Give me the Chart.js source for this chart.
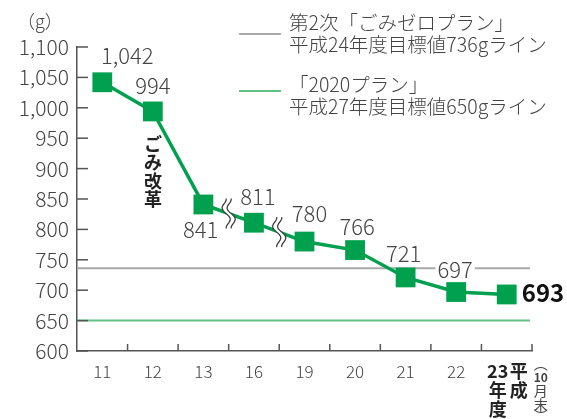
<!DOCTYPE html>
<html>
<head>
<meta charset="utf-8">
<script src="https://cdn.jsdelivr.net/npm/chart.js@4"></script>
<style>
  html, body { margin: 0; padding: 0; background: #fff; }
  #wrap { width: 567px; height: 419px; }
</style>
</head>
<body>
<div id="wrap"><canvas id="chart"></canvas></div>
<script>
// 1人1日あたりのごみ排出量（g）
const years = ['11', '12', '13', '16', '19', '20', '21', '22', '23'];
const amounts = [1042, 994, 841, 811, 780, 766, 721, 697, 693];
const valueLabels = ['1,042', '994', '841', '811', '780', '766', '721', '697', '693'];
const targetValues = [736, 650];
const targetTexts = [
    ['第2次「ごみゼロプラン」', '平成24年度目標値736gライン'],
    ['「2020プラン」', '平成27年度目標値650gライン']
];
const breakAfter = [2, 3];   // 軸の省略（13→16、16→19）

const FONT = '"Noto Sans CJK JP", "Noto Sans", sans-serif';
const GREEN = '#00a04e';
const TEXT = '#444';

// ラベル位置の調整（点からのずれ）
const labelOffsets = [[25, -27], [0, -26], [-5, 25], [4, -26], [5, -28], [2, -23], [-2, -24], [-1, -22], [38, -2]];

const decorPlugin = {
    id: 'decor',
    beforeDatasetsDraw(chart) {
        const { ctx, chartArea, scales: { x, y } } = chart;
        ctx.save();
        // 目標値ライン
        const lineColors = ['#a9a9a9', '#62c184'];
        targetValues.forEach((v, i) => {
            const py = y.getPixelForValue(v);
            ctx.strokeStyle = lineColors[i];
            ctx.lineWidth = 2;
            ctx.beginPath();
            ctx.moveTo(chartArea.left, py);
            ctx.lineTo(chartArea.right - 2, py);
            ctx.stroke();
        });

        // 目盛り（内向き）
        ctx.strokeStyle = '#555';
        ctx.lineWidth = 1.5;
        y.ticks.forEach(t => {
            const py = y.getPixelForValue(t.value);
            ctx.beginPath();
            ctx.moveTo(chartArea.left, py);
            ctx.lineTo(chartArea.left + 11, py);
            ctx.stroke();
        });
        const band = (x.getPixelForValue(1) - x.getPixelForValue(0));
        for (let i = 0; i < years.length; i++) {
            const px = x.getPixelForValue(i) + band / 2;
            ctx.beginPath();
            ctx.moveTo(px, chartArea.bottom);
            ctx.lineTo(px, chartArea.bottom - 7);
            ctx.stroke();
        }

        // 凡例
        ctx.font = '300 19.5px ' + FONT;
        ctx.fillStyle = TEXT;
        ctx.textAlign = 'left';
        ctx.textBaseline = 'middle';
        const legendY = [34, 91];
        const textY = [[23, 45], [85, 107]];
        targetTexts.forEach((lines, i) => {
            ctx.strokeStyle = lineColors[i];
            ctx.lineWidth = 2;
            ctx.beginPath();
            ctx.moveTo(239, legendY[i]);
            ctx.lineTo(281, legendY[i]);
            ctx.stroke();
            ctx.fillText(lines[0], 289, textY[i][0]);
            ctx.fillText(lines[1], 289, textY[i][1]);
        });

        // 単位
        ctx.font = '300 18px ' + FONT;
        ctx.fillText('（g）', 17, 21);

        // ごみ改革（縦書き）
        ctx.font = 'bold 18px ' + FONT;
        ctx.fillStyle = '#222';
        ctx.textAlign = 'center';
        ['ご', 'み', '改', '革'].forEach((c, i) => ctx.fillText(c, 153, 144 + i * 18.5));

        // 最後の年度ラベル（縦書き）
        const lx = x.getPixelForValue(8);
        ctx.font = 'bold 18px ' + FONT;
        ctx.fillText('23', lx - 9, 371);
        ctx.fillText('年', lx - 9, 390);
        ctx.fillText('度', lx - 9, 409);
        ctx.fillText('平', lx + 12, 371);
        ctx.fillText('成', lx + 12, 390);
        ctx.font = '14px ' + FONT;
        ctx.fillStyle = TEXT;
        ctx.fillText('︵', lx + 34, 364);
        ctx.font = 'bold 12px ' + FONT;
        ctx.fillText('10', lx + 34, 377);
        ctx.font = '14px ' + FONT;
        ctx.fillText('月', lx + 34, 391);
        ctx.fillText('末', lx + 34, 405);
        ctx.fillText('︶', lx + 34, 416);
        ctx.restore();
    },
    afterDatasetsDraw(chart) {
        const { ctx } = chart;
        const meta = chart.getDatasetMeta(0);
        ctx.save();

        // 省略記号
        breakAfter.forEach(i => {
            const p0 = meta.data[i], p1 = meta.data[i + 1];
            const cx = (p0.x + p1.x) / 2, cy = (p0.y + p1.y) / 2;
            const pts = (dx) => {
                const arr = [];
                for (let k = 0; k <= 30; k++) {
                    const t = k / 15 - 1;
                    arr.push([cx + dx + 3 * Math.sin(t * Math.PI * 1.5) + t * 3, cy + t * 15]);
                }
                return arr;
            };
            const a = pts(-2.5), b = pts(2.5);
            ctx.fillStyle = '#fff';
            ctx.beginPath();
            a.forEach((p, k) => k ? ctx.lineTo(p[0], p[1]) : ctx.moveTo(p[0], p[1]));
            b.slice().reverse().forEach(p => ctx.lineTo(p[0], p[1]));
            ctx.closePath();
            ctx.fill();
            ctx.strokeStyle = '#333';
            ctx.lineWidth = 1.2;
            [a, b].forEach(line => {
                ctx.beginPath();
                line.forEach((p, k) => k ? ctx.lineTo(p[0], p[1]) : ctx.moveTo(p[0], p[1]));
                ctx.stroke();
            });
        });

        // 数値ラベル
        ctx.textBaseline = 'middle';
        meta.data.forEach((pt, i) => {
            const last = i === meta.data.length - 1;
            ctx.font = (last ? 'bold 24px ' : '300 22px ') + FONT;
            ctx.textAlign = last ? 'left' : (i === 2 ? 'right' : 'center');
            const tx = pt.x + labelOffsets[i][0] + (i === 2 ? 20 : 0);
            const ty = pt.y + labelOffsets[i][1];
            if (i === 7) {
                const w = ctx.measureText(valueLabels[i]).width;
                ctx.fillStyle = '#fff';
                ctx.fillRect(tx - w / 2 - 2, ty - 6, w + 4, 12);
            }
            ctx.fillStyle = last ? '#111' : TEXT;
            ctx.fillText(valueLabels[i], last ? pt.x + 15 : tx, ty);
        });
        ctx.restore();
    }
};

new Chart(document.getElementById('chart'), {
    type: 'line',
    data: {
        labels: years,
        datasets: [{
            data: amounts,
            borderColor: GREEN,
            borderWidth: 3.5,
            backgroundColor: GREEN,
            pointStyle: 'rect',
            pointRadius: 14,
            pointHoverRadius: 14,
            pointBorderWidth: 0,
            tension: 0
        }]
    },
    options: {
        responsive: true,
        maintainAspectRatio: false,
        animation: false,
        layout: { padding: { top: 47, right: 35, left: 0, bottom: 0 } },
        plugins: {
            legend: { display: false },
            tooltip: { enabled: false }
        },
        scales: {
            x: {
                offset: true,
                grid: { display: true, drawOnChartArea: false, drawTicks: false },
                border: { display: true, color: '#555', width: 1.5 },
                ticks: {
                    padding: 10,
                    color: TEXT,
                    font: { family: FONT, size: 17, weight: 300 },
                    maxRotation: 0,
                    autoSkip: false,
                    callback: function(value, index) {
                        return index === years.length - 1 ? '' : years[index];
                    }
                },
                afterFit: function(scale) { scale.height = 68; }
            },
            y: {
                min: 600,
                max: 1100,
                grid: { display: true, drawOnChartArea: false, drawTicks: false },
                border: { display: true, color: '#555', width: 1.5 },
                ticks: {
                    stepSize: 50,
                    padding: 8,
                    color: TEXT,
                    font: { family: FONT, size: 21, weight: 300 },
                    callback: function(value) {
                        return value.toLocaleString('en-US');
                    }
                },
                afterFit: function(scale) { scale.width = 77; }
            }
        }
    },
    plugins: [decorPlugin]
});
</script>
</body>
</html>
